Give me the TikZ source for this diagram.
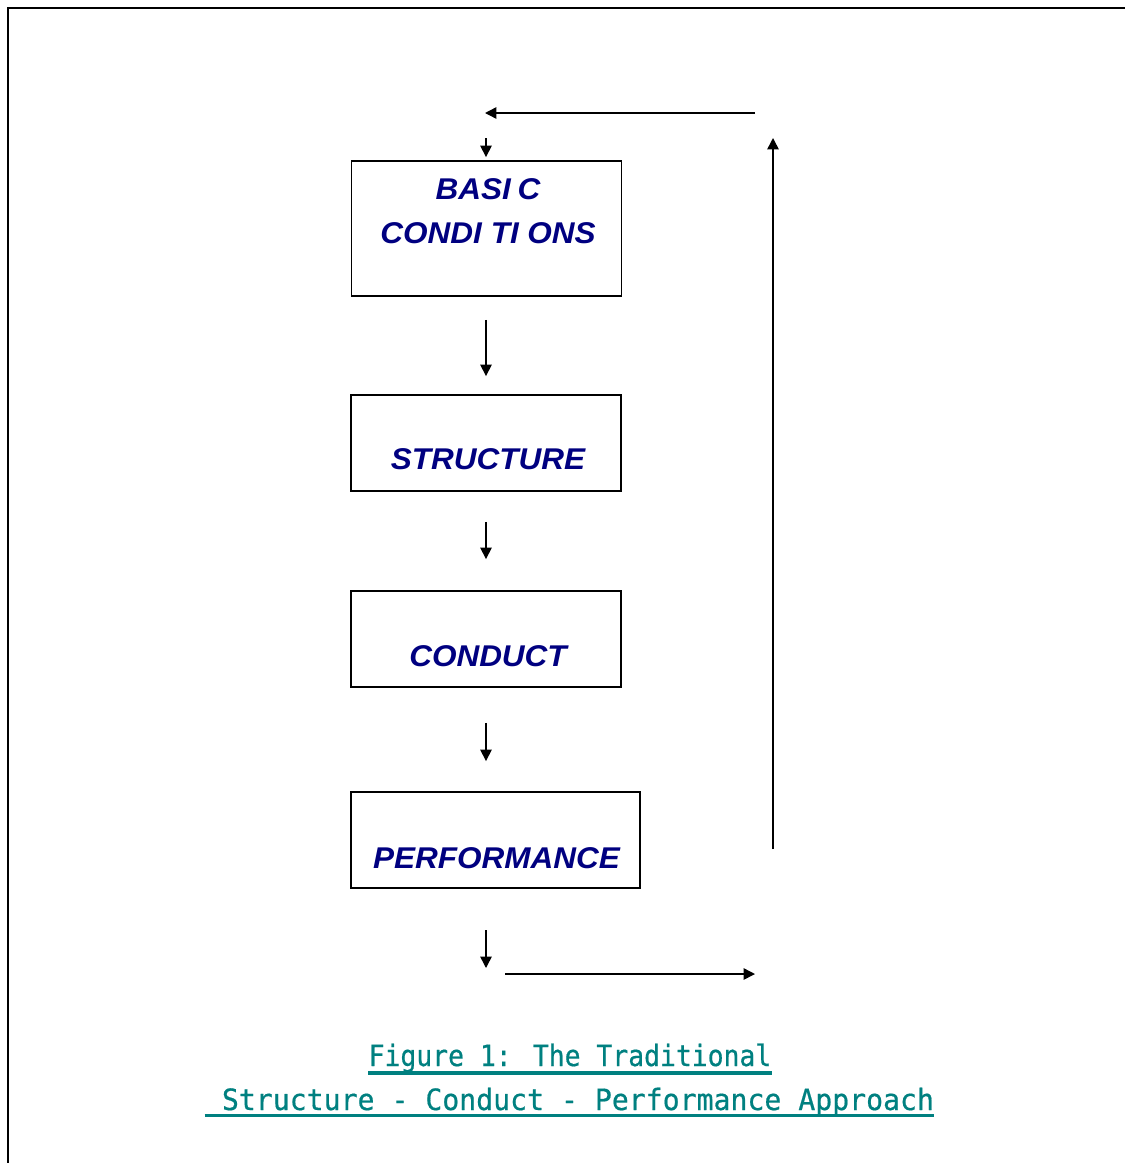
\documentclass[tikz,border=0pt]{standalone}
\usepackage{fontspec}
\usetikzlibrary{arrows.meta}
\newfontfamily\boxfont[FakeStretch=1.05]{Liberation Sans}
\newfontfamily\capfonta[FakeStretch=0.9,FakeBold=0.6]{DejaVu Sans Mono}
\newfontfamily\capfontb[FakeStretch=0.96,FakeBold=0.6]{DejaVu Sans Mono}
\definecolor{boxtext}{RGB}{0,0,128}
\definecolor{captext}{RGB}{0,128,128}
\tikzset{
  stage/.style={draw=black, line width=1.4pt, minimum width=202.5pt, inner sep=0pt},
  stagelabel/.style={anchor=base, inner sep=0pt, text=boxtext,
    font=\boxfont\bfseries\itshape\fontsize{22.5pt}{27pt}\selectfont},
  flow/.style={line width=1.1pt, -{Triangle[length=8.5pt,width=8.5pt]}},
  caption/.style={anchor=base, inner sep=0pt, text=captext},
  rule/.style={draw=captext, line width=2.4pt}
}
\begin{document}
\begin{tikzpicture}[x=0.75pt,y=-0.75pt]
  \useasboundingbox (0,0) rectangle (1125,1163);
  % page frame, open at right and bottom
  \draw[line width=2.1pt] (8,1163) -- (8,8) -- (1125,8);

  % the four stages
  \node[stage, minimum height=101.25pt] (b1) at (486.5,228.5) {};
  \node[stage, minimum height=72pt] (b2) at (486,443) {};
  \node[stage, minimum height=72pt] (b3) at (486,639) {};
  \node[stage, minimum width=216.75pt, minimum height=72pt] (b4) at (495.5,840) {};

  \node[stagelabel] (t1a) at (488,199) {BASI\kern0.22em C};
  \node[stagelabel] (t1b) at (488,243) {CONDI\kern0.3em TI\kern0.28em ONS};
  \node[stagelabel] (t2) at (488,469) {STRUCTURE};
  \node[stagelabel] (t3) at (488,666) {CONDUCT};
  \node[stagelabel] (t4) at (496.5,868) {PERFORMANCE};

  % downward flow between stages
  \draw[flow, shorten <=17.25pt, shorten >=13.5pt] (b1.south -| 486,0) -- (b2.north);
  \draw[flow, shorten <=22.5pt, shorten >=23.25pt] (b2.south) -- (b3.north);
  \draw[flow, shorten <=26.25pt, shorten >=22.5pt] (b3.south) -- (b3.south |- b4.north);

  % feedback loop
  \coordinate (fbin) at (486,138);
  \coordinate (outtop) at (486,930);
  \coordinate (outbot) at (486,968);
  \coordinate (outa) at (505,974);
  \coordinate (outb) at (755,974);
  \coordinate (upa) at (773,849);
  \coordinate (upb) at (773,138);
  \coordinate (topa) at (755,113);
  \coordinate (topb) at (485,113);

  \draw[flow, shorten >=2.25pt] (fbin) -- (fbin |- b1.north);
  \draw[flow] (outtop) -- (outbot);
  \draw[flow] (outa) -- (outb);
  \draw[flow] (upa) -- (upb);
  \draw[flow] (topa) -- (topb);

  % caption
  \node[caption, font=\capfonta\fontsize{22pt}{26pt}\selectfont] (c1) at (570,1066) {Figure 1: The Traditional};
  \node[caption, font=\capfontb\fontsize{22pt}{26pt}\selectfont] (c2) at (569.5,1110) {\ Structure - Conduct - Performance Approach};
  \draw[rule] ([yshift=-5.3pt]c1.base west) -- ([yshift=-5.3pt]c1.base east);
  \draw[rule] ([yshift=-4.3pt]c2.base west) -- ([yshift=-4.3pt]c2.base east);
\end{tikzpicture}
\end{document}
